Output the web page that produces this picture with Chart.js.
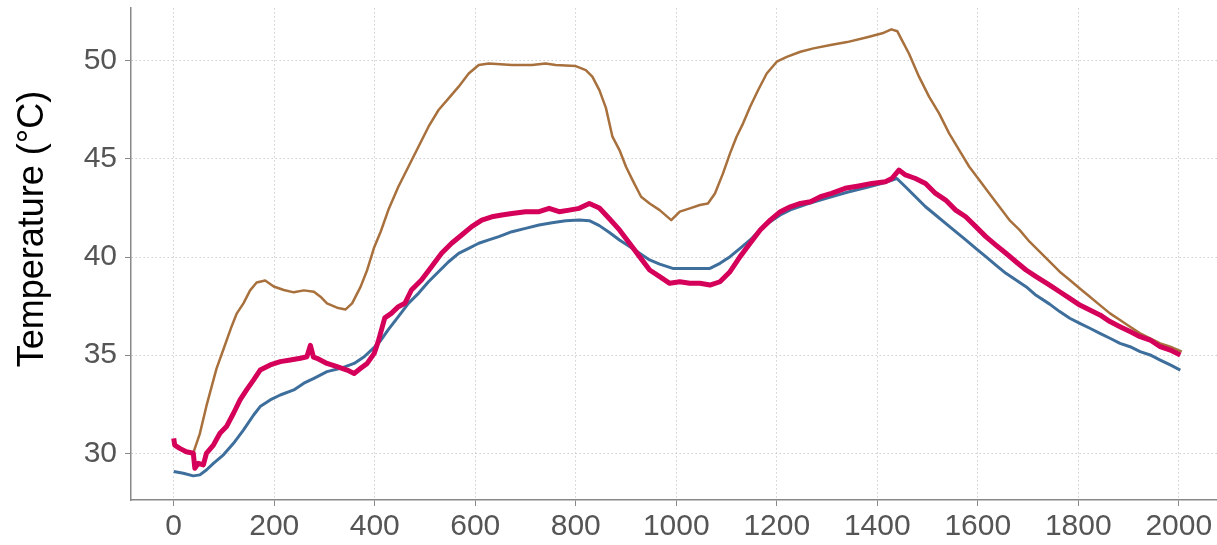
<!DOCTYPE html>
<html>
<head>
<meta charset="utf-8">
<script src="https://cdn.jsdelivr.net/npm/chart.js@4/dist/chart.umd.min.js"></script>
<style>
  body { margin: 0; background: #fff; }
  #wrap { width: 1217px; height: 545px; }
</style>
</head>
<body>
<div id="wrap"><canvas id="temps"></canvas></div>
<script>
var yTicks = [30, 35, 40, 45, 50];
var xTicks = [0, 200, 400, 600, 800, 1000, 1200, 1400, 1600, 1800, 2000];

// brown trace
var brownX = [40, 52, 65, 85, 99, 115, 125, 139, 152, 165, 182, 199, 219, 239, 259, 279, 292, 305, 325, 342, 355, 372, 385, 399, 412, 427, 447, 467, 487, 507, 527, 547, 567, 587, 607, 627, 673, 713, 740, 760, 800, 820, 833, 847, 860, 873, 887, 900, 913, 930, 947, 967, 990, 1007, 1027, 1047, 1063, 1077, 1093, 1107, 1120, 1133, 1147, 1163, 1180, 1200, 1220, 1247, 1273, 1307, 1340, 1380, 1410, 1428, 1440, 1449, 1463, 1483, 1503, 1523, 1543, 1563, 1583, 1603, 1623, 1643, 1663, 1683, 1703, 1723, 1743, 1763, 1783, 1803, 1823, 1843, 1863, 1883, 1903, 1923, 1943, 1963, 1983, 2006];
var brownY = [30.1, 31.0, 32.4, 34.3, 35.3, 36.45, 37.1, 37.65, 38.3, 38.7, 38.8, 38.5, 38.32, 38.2, 38.3, 38.23, 37.98, 37.64, 37.42, 37.33, 37.64, 38.49, 39.34, 40.5, 41.3, 42.39, 43.58, 44.6, 45.62, 46.64, 47.49, 48.08, 48.68, 49.35, 49.78, 49.86, 49.78, 49.78, 49.86, 49.78, 49.73, 49.52, 49.19, 48.5, 47.6, 46.13, 45.45, 44.6, 43.92, 43.07, 42.73, 42.39, 41.88, 42.31, 42.48, 42.65, 42.73, 43.24, 44.26, 45.28, 46.13, 46.81, 47.66, 48.51, 49.35, 49.95, 50.2, 50.46, 50.63, 50.8, 50.95, 51.2, 51.4, 51.6, 51.5, 51.05, 50.37, 49.19, 48.17, 47.32, 46.3, 45.45, 44.6, 43.92, 43.24, 42.56, 41.88, 41.38, 40.78, 40.27, 39.76, 39.25, 38.83, 38.4, 37.98, 37.55, 37.13, 36.79, 36.45, 36.11, 35.86, 35.6, 35.43, 35.18];

// blue trace
var blueX = [0, 19, 39, 52, 65, 79, 99, 119, 139, 159, 172, 192, 212, 239, 259, 279, 305, 332, 359, 379, 399, 412, 427, 447, 467, 487, 507, 527, 547, 567, 587, 607, 627, 647, 673, 700, 727, 753, 780, 807, 827, 847, 867, 887, 907, 927, 947, 967, 993, 1020, 1067, 1087, 1107, 1127, 1147, 1167, 1187, 1207, 1227, 1260, 1300, 1340, 1380, 1410, 1439, 1456, 1476, 1496, 1516, 1536, 1556, 1576, 1596, 1616, 1636, 1656, 1676, 1696, 1716, 1743, 1763, 1783, 1803, 1823, 1843, 1863, 1883, 1903, 1923, 1943, 1963, 1983, 2003];
var blueY = [29.07, 28.98, 28.85, 28.9, 29.15, 29.49, 29.92, 30.51, 31.19, 31.95, 32.38, 32.72, 32.97, 33.23, 33.57, 33.82, 34.16, 34.33, 34.58, 34.92, 35.4, 35.75, 36.3, 36.96, 37.64, 38.15, 38.74, 39.25, 39.76, 40.19, 40.44, 40.7, 40.87, 41.04, 41.29, 41.46, 41.63, 41.75, 41.85, 41.88, 41.85, 41.6, 41.25, 40.87, 40.53, 40.19, 39.85, 39.64, 39.42, 39.42, 39.42, 39.68, 40.02, 40.44, 40.87, 41.38, 41.8, 42.14, 42.4, 42.7, 43.0, 43.3, 43.55, 43.75, 44.0, 43.58, 43.07, 42.56, 42.14, 41.71, 41.29, 40.87, 40.44, 40.02, 39.59, 39.17, 38.83, 38.49, 38.05, 37.6, 37.22, 36.88, 36.62, 36.37, 36.11, 35.86, 35.6, 35.43, 35.18, 35.01, 34.75, 34.5, 34.24];

// red trace (noisy)
var redX = [0, 2, 12, 25, 39, 42, 49, 59, 65, 79, 92, 105, 119, 132, 145, 159, 172, 192, 212, 232, 252, 265, 272, 278, 285, 305, 325, 345, 359, 372, 385, 399, 407, 420, 433, 447, 460, 473, 493, 513, 533, 553, 573, 593, 613, 633, 653, 673, 700, 727, 747, 767, 787, 807, 827, 847, 867, 887, 907, 927, 947, 967, 987, 1007, 1027, 1047, 1067, 1087, 1107, 1127, 1147, 1167, 1187, 1207, 1227, 1247, 1267, 1287, 1309, 1336, 1363, 1389, 1416, 1429, 1443, 1456, 1476, 1496, 1516, 1536, 1556, 1576, 1596, 1616, 1636, 1656, 1676, 1696, 1716, 1743, 1763, 1783, 1803, 1823, 1843, 1863, 1883, 1903, 1923, 1943, 1963, 1983, 2003];
var redY = [30.76, 30.42, 30.25, 30.08, 30.0, 29.24, 29.49, 29.41, 30.0, 30.42, 31.02, 31.36, 32.04, 32.72, 33.23, 33.74, 34.24, 34.5, 34.67, 34.75, 34.84, 34.92, 35.5, 34.9, 34.84, 34.58, 34.41, 34.24, 34.07, 34.33, 34.58, 35.09, 35.7, 36.9, 37.13, 37.47, 37.64, 38.32, 38.83, 39.51, 40.19, 40.7, 41.12, 41.55, 41.88, 42.05, 42.14, 42.22, 42.31, 42.31, 42.48, 42.31, 42.39, 42.48, 42.73, 42.5, 41.95, 41.38, 40.7, 40.02, 39.34, 39.0, 38.66, 38.74, 38.66, 38.66, 38.57, 38.74, 39.25, 40.02, 40.7, 41.38, 41.88, 42.31, 42.56, 42.73, 42.82, 43.07, 43.24, 43.5, 43.62, 43.75, 43.84, 44.0, 44.43, 44.18, 44.0, 43.75, 43.24, 42.9, 42.39, 42.05, 41.55, 41.04, 40.61, 40.19, 39.76, 39.34, 39.0, 38.57, 38.23, 37.89, 37.55, 37.3, 37.05, 36.71, 36.45, 36.2, 35.94, 35.77, 35.43, 35.26, 35.01];

function pts(xs, ys) {
  return xs.map(function (x, i) { return { x: x, y: ys[i] }; });
}

var fam = "'Liberation Sans', Arial, sans-serif";

// y axis title, drawn a bit above the axis centre like the original
var yTitle = {
  id: "yTitle",
  afterDraw: function (chart) {
    var c = chart.ctx;
    c.save();
    c.translate(33, 229);
    c.rotate(-Math.PI / 2);
    c.font = "36px " + fam;
    c.fillStyle = "#000";
    c.textAlign = "center";
    c.textBaseline = "middle";
    c.fillText("Temperature (°C)", 0, 0);
    c.restore();
  },
};

var ctx = document.getElementById("temps");
var myChart = new Chart(ctx, {
  type: "line",
  data: {
    datasets: [
      {
        data: pts(redX, redY),
        borderColor: "#d4005a",
        borderWidth: 5,
      },
      {
        data: pts(brownX, brownY),
        borderColor: "#a8703c",
        borderWidth: 2.5,
      },
      {
        data: pts(blueX, blueY),
        borderColor: "#3e6f9c",
        borderWidth: 3,
      },
    ],
  },
  options: {
    animation: false,
    responsive: true,
    maintainAspectRatio: false,
    layout: { padding: 0 },
    elements: {
      point: { radius: 0 },
      line: { tension: 0, borderJoinStyle: "round" },
    },
    plugins: { legend: { display: false }, tooltip: { enabled: false } },
    scales: {
      x: {
        type: "linear",
        min: -85,
        max: 2076,
        afterBuildTicks: function (s) {
          s.ticks = xTicks.map(function (v) { return { value: v }; });
        },
        afterFit: function (s) { s.height = 45; },
        ticks: {
          font: { family: fam, size: 30 },
          color: "#555",
          padding: 3,
          maxRotation: 0,
          autoSkip: false,
          callback: function (v) { return String(v); },
        },
        grid: { color: "#cfcfcf", tickColor: "#888", tickLength: 6, tickBorderDash: [] },
        border: { color: "#888", width: 1.5, dash: [1.5, 2.5] },
      },
      y: {
        min: 27.62,
        max: 52.68,
        afterBuildTicks: function (s) {
          s.ticks = yTicks.map(function (v) { return { value: v }; });
        },
        afterFit: function (s) { s.width = 131; },
        ticks: {
          font: { family: fam, size: 30, lineHeight: 0.01 },
          color: "#555",
          padding: 8,
          callback: function (v) { return String(v); },
        },
        grid: { color: "#cfcfcf", tickColor: "#888", tickLength: 6, tickBorderDash: [] },
        border: { color: "#888", width: 1.5, dash: [1.5, 2.5] },
      },
    },
  },
  plugins: [yTitle],
});
</script>
</body>
</html>
